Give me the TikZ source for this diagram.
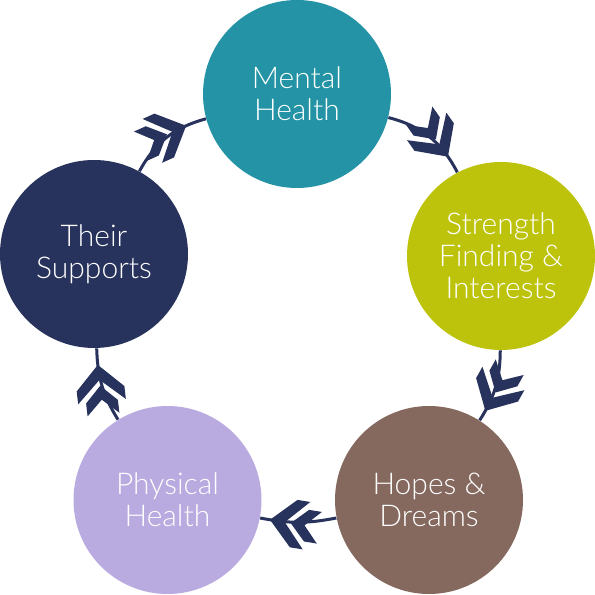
\documentclass[tikz,border=0pt]{standalone}
\usepackage{fontspec}
\setmainfont{Lato}[UprightFont={* Light}]
\usetikzlibrary{decorations.markings}
\definecolor{teal1}{HTML}{2393A5}
\definecolor{lime1}{HTML}{BDC20B}
\definecolor{brown1}{HTML}{85695E}
\definecolor{lav1}{HTML}{B9AADF}
\definecolor{navy1}{HTML}{27335C}
\begin{document}
\begin{tikzpicture}[x=0.5pt,y=0.5pt,
 bubble/.style={circle, minimum size=94pt, inner sep=0pt, align=center, text=white, font=\fontsize{15}{16}\selectfont},
 link/.style={draw=navy1, line width=1.5pt, postaction={decorate},
   decoration={markings, mark=at position #1 with {
     \fill[navy1] (0pt,0pt) -- (-12pt,12pt) -- (-18.5pt,12pt) -- (-7.5pt,0pt) -- (-18.5pt,-12pt) -- (-12pt,-12pt) -- cycle;
     \fill[navy1] (-10.5pt,0pt) -- (-18.5pt,8pt) -- (-25pt,8pt) -- (-17.5pt,0pt) -- (-25pt,-8pt) -- (-18.5pt,-8pt) -- cycle;}}}]
\useasboundingbox (0,0) rectangle (595,595);
\node[bubble, fill=teal1] (m) at (297,501) {Mental\\Health};
\node[bubble, fill=lime1] (s) at (501,339) {Strength\\Finding \&\\Interests};
\node[bubble, fill=brown1] (h) at (429,95) {Hopes \&\\Dreams};
\node[bubble, fill=lav1] (p) at (167.5,95) {Physical\\Health};
\node[bubble, fill=navy1] (t) at (94,341) {Their\\Supports};
\draw[link=0.8] (m) to[bend left=24] (s);
\draw[link=0.85] (s) to[bend left=16] (h);
\draw[link=0.87] (h) to[bend left=11] (p);
\draw[link=0.78] (p) to[bend left=15] (t);
\draw[link=0.76] (t) to[bend left=23] (m);
\end{tikzpicture}
\end{document}
